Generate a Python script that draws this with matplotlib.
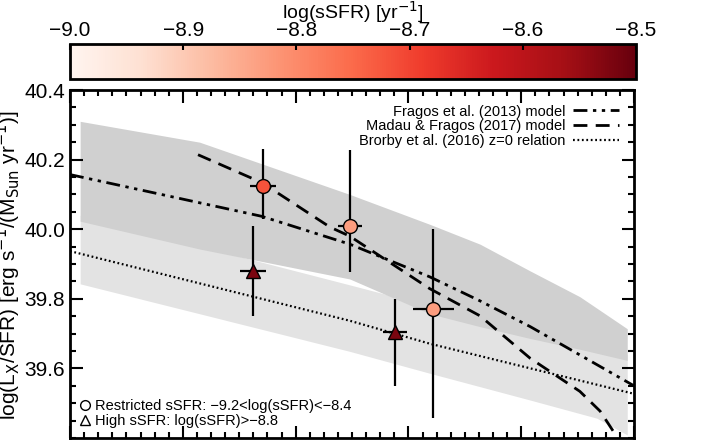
import matplotlib
matplotlib.use("Agg")
import matplotlib.pyplot as plt
import numpy as np
from matplotlib.colors import Normalize
from matplotlib.lines import Line2D
from matplotlib.ticker import MultipleLocator

plt.rcParams['font.family'] = ['Liberation Sans', 'DejaVu Sans']

# x in arbitrary axis units (0 = left edge, 1 = right edge)
circ_x = [0.342, 0.496, 0.644]
circ_y = [40.125, 40.008, 39.772]
circ_yerr_lo = [0.095, 0.13, 0.315]
circ_yerr_hi = [0.105, 0.22, 0.228]
circ_xerr = [0.023, 0.021, 0.036]
circ_ssfr = [-8.72, -8.83, -8.83]

tri_x = [0.325, 0.576]
tri_y = [39.88, 39.706]
tri_yerr_lo = [0.13, 0.156]
tri_yerr_hi = [0.13, 0.094]
tri_xerr = [0.023, 0.021]
tri_ssfr = [-8.52, -8.52]

frag_x = [0.0, 0.34, 0.496, 0.638, 0.727, 0.816, 1.0]
frag_y = [40.157, 40.037, 39.957, 39.863, 39.794, 39.72, 39.55]
madau_x = [0.227, 0.34, 0.461, 0.496, 0.638, 0.727, 0.816, 0.904, 0.94, 0.963, 0.975]
madau_y = [40.214, 40.134, 40.006, 39.98, 39.829, 39.751, 39.629, 39.534, 39.477, 39.42, 39.38]
brorby_x = [0.0, 0.496, 0.638, 1.0]
brorby_y = [39.937, 39.737, 39.671, 39.527]

dark_x = [0.018, 0.23, 0.496, 0.638, 0.727, 0.816, 0.904, 0.988]
dark_top = [40.31, 40.25, 40.10, 40.014, 39.957, 39.88, 39.806, 39.714]
dark_bot = [40.023, 39.943, 39.857, 39.757, 39.72, 39.686, 39.655, 39.623]
light_x = [0.018, 0.496, 0.638, 0.816, 0.934, 0.988]
light_top = [40.04, 39.84, 39.78, 39.70, 39.66, 39.64]
light_bot = [39.843, 39.649, 39.586, 39.509, 39.457, 39.409]

cmap = plt.get_cmap('Reds')
norm = Normalize(-9.0, -8.5)

fig = plt.figure(figsize=(7.06, 4.41), dpi=100)
ax = fig.add_axes([70/706, 1-438/441, 564/706, 348/441])
ax.fill_between(light_x, light_bot, light_top, color='#e3e3e3', lw=0)
ax.fill_between(dark_x, dark_bot, dark_top, color='#d0d0d0', lw=0)
ax.plot(frag_x, frag_y, color='k', lw=2, ls=(0, (5, 2, 1.2, 2, 1.2, 2)))
ax.plot(madau_x, madau_y, color='k', lw=2, ls=(0, (5, 3)))
ax.plot(brorby_x, brorby_y, color='k', lw=1.6, ls=(0, (0.8, 1.2)))

for x, y, lo, hi, xe, s in zip(circ_x, circ_y, circ_yerr_lo, circ_yerr_hi, circ_xerr, circ_ssfr):
    ax.errorbar(x, y, yerr=[[lo], [hi]], xerr=xe, fmt='o', ms=10, mfc=cmap(norm(s)),
                mec='k', mew=1, ecolor='k', elinewidth=1.6, capsize=0, zorder=5)
for x, y, lo, hi, xe, s in zip(tri_x, tri_y, tri_yerr_lo, tri_yerr_hi, tri_xerr, tri_ssfr):
    ax.errorbar(x, y, yerr=[[lo], [hi]], xerr=xe, fmt='^', ms=10, mfc=cmap(norm(s)),
                mec='k', mew=1, ecolor='k', elinewidth=1.6, capsize=0, zorder=5)

ax.set_xlim(0, 1)
ax.set_ylim(39.4, 40.4)
ax.set_yticks([39.6, 39.8, 40.0, 40.2, 40.4])
ax.yaxis.set_minor_locator(MultipleLocator(0.05))
ax.xaxis.set_major_locator(MultipleLocator(0.2))
ax.xaxis.set_minor_locator(MultipleLocator(0.025))
ax.tick_params(which='both', direction='in', top=True, right=True, width=1.5, labelsize=15, labelbottom=False)
ax.tick_params(which='major', length=9)
ax.tick_params(which='minor', length=4)
for sp in ax.spines.values():
    sp.set_linewidth(2)

h = [Line2D([], [], color='k', lw=2, ls=(0, (5, 2, 1.2, 2, 1.2, 2))),
     Line2D([], [], color='k', lw=2, ls=(0, (5, 3))),
     Line2D([], [], color='k', lw=1.6, ls=(0, (0.8, 1.2)))]
leg = ax.legend(h, ['Fragos et al. (2013) model', 'Madau & Fragos (2017) model',
                    'Brorby et al. (2016) z=0 relation'], loc='upper right', markerfirst=False,
                frameon=False, fontsize=10.5, handlelength=3.2, labelspacing=0.05,
                borderaxespad=0.6, handletextpad=0.5)
ax.add_artist(leg)
h2 = [Line2D([], [], marker='o', ls='', mfc='none', mec='k', ms=7),
      Line2D([], [], marker='^', ls='', mfc='none', mec='k', ms=7)]
ax.legend(h2, ['Restricted sSFR: \u22129.2<log(sSFR)<\u22128.4', 'High sSFR: log(sSFR)>\u22128.8'],
          loc='lower left', frameon=False, fontsize=10.5, handlelength=0.6, handletextpad=0.4,
          labelspacing=0.05, borderaxespad=0.5, borderpad=0.2)

fig.text(8/706, 1-265/441, 'log(L$_\\mathrm{X}$/SFR) [erg s$^{-1}$/(M$_\\mathrm{Sun}$ yr$^{-1}$)]',
         rotation=90, ha='center', va='center', fontsize=15)

cax = fig.add_axes([70/706, 1-79/441, 566/706, 35/441])
sm = matplotlib.cm.ScalarMappable(norm=norm, cmap=cmap)
cb = fig.colorbar(sm, cax=cax, orientation='horizontal')
cb.set_ticks([-9.0, -8.9, -8.8, -8.7, -8.6, -8.5])
cb.set_ticklabels(['\u22129.0', '\u22128.9', '\u22128.8', '\u22128.7', '\u22128.6', '\u22128.5'])
cax.xaxis.set_ticks_position('top')
cax.tick_params(direction='in', length=4, width=1.5, labelsize=15, pad=3)
cb.outline.set_linewidth(2)
fig.text(353/706, 1-12/441, 'log(sSFR) [yr$^{-1}$]', ha='center', va='center', fontsize=14)

fig.savefig('out.png', dpi=100)
